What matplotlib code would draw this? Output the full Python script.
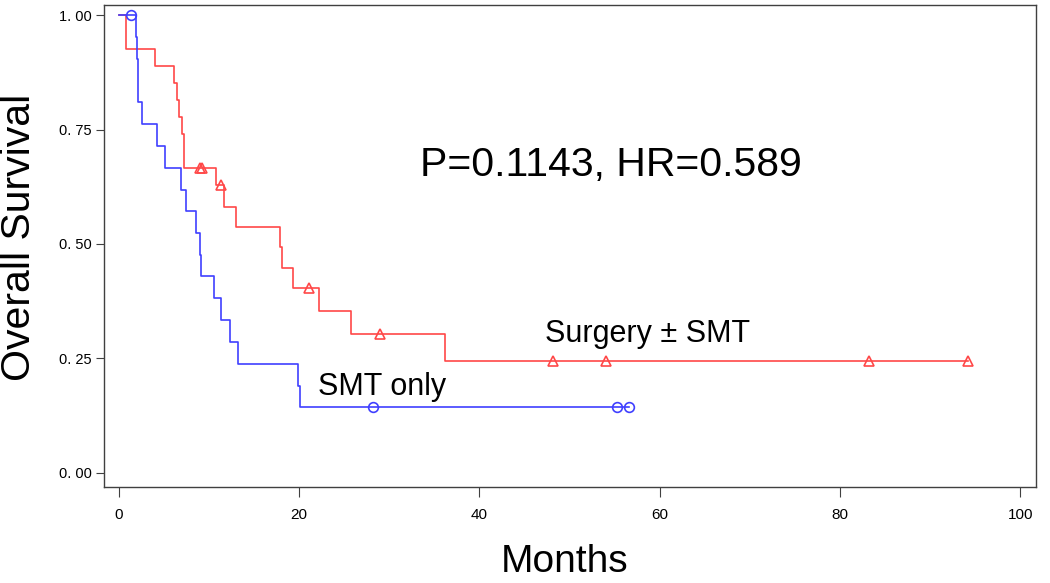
import matplotlib
matplotlib.use("Agg")
import matplotlib.pyplot as plt
from matplotlib.ticker import FuncFormatter

plt.rcParams['font.family'] = ['Liberation Sans', 'DejaVu Sans']

# Surgery +/- SMT (red) step curve
red_t = [0, 0.8, 4.0, 6.1, 6.4, 6.7, 7.0, 7.2, 10.8, 11.7, 13.0, 17.9, 18.1,
         19.3, 22.2, 25.7, 36.2, 94.2]
red_s = [1.0, 0.926, 0.889, 0.852, 0.815, 0.778, 0.741, 0.667, 0.630, 0.581,
         0.538, 0.494, 0.447, 0.403, 0.354, 0.303, 0.245, 0.245]
red_cens_t = [9.0, 9.2, 11.3, 21.1, 29.0, 48.2, 54.0, 83.2, 94.2]
red_cens_s = [0.667, 0.667, 0.630, 0.403, 0.303, 0.245, 0.245, 0.245, 0.245]

# SMT only (blue) step curve
blue_t = [0, 1.9, 2.0, 2.1, 2.15, 2.6, 4.2, 5.1, 6.9, 7.4, 8.6, 9.0, 9.1,
          10.6, 11.3, 12.3, 13.2, 19.9, 20.1, 56.6]
blue_s = [1.0, 0.952, 0.905, 0.857, 0.810, 0.762, 0.714, 0.667, 0.619, 0.571,
          0.524, 0.476, 0.429, 0.381, 0.333, 0.286, 0.238, 0.190, 0.143, 0.143]
blue_cens_t = [1.35, 28.2, 55.3, 56.6]
blue_cens_s = [1.0, 0.143, 0.143, 0.143]

x_ticks = [0, 20, 40, 60, 80, 100]
y_ticks = [0.0, 0.25, 0.5, 0.75, 1.0]

red = '#ff4848'
blue = '#4040ff'

fig = plt.figure(figsize=(10.5, 5.83), dpi=100)
ax = fig.add_axes([0.099, 0.165, 0.888, 0.826])

ax.step(red_t, red_s, where='post', color=red, lw=1.2)
ax.plot(red_cens_t, red_cens_s, ls='none', marker='^', ms=6.5, mfc='none',
        mec=red, mew=1.2)
ax.step(blue_t, blue_s, where='post', color=blue, lw=1.2)
ax.plot(blue_cens_t, blue_cens_s, ls='none', marker='o', ms=7, mfc='none',
        mec=blue, mew=1.2)

ax.set_xlim(-1.66, 101.8)
ax.set_ylim(-0.031, 1.022)
ax.set_xticks(x_ticks)
ax.set_yticks(y_ticks)
ax.yaxis.set_major_formatter(FuncFormatter(lambda v, p: ('%.2f' % v).replace('.', '. ')))
ax.tick_params(axis='x', length=7, pad=8, labelsize=11, color='#404040')
ax.tick_params(axis='y', length=6, pad=3, labelsize=10.5, color='#404040')
for sp in ax.spines.values():
    sp.set_color('#404040')
    sp.set_linewidth(1.0)

ax.text(54.6, 0.672, 'P=0.1143, HR=0.589', fontsize=29.5, ha='center', va='center')
ax.text(47.3, 0.303, 'Surgery \u00b1 SMT', fontsize=22, ha='left', va='center')
ax.text(22.1, 0.188, 'SMT only', fontsize=22, ha='left', va='center')

fig.text(0.018, 0.592, 'Overall Survival', rotation=90, fontsize=29.5,
         ha='center', va='center')
fig.text(0.538, 0.006, 'Months', fontsize=28, ha='center', va='bottom')

fig.savefig('out.png', dpi=100)
